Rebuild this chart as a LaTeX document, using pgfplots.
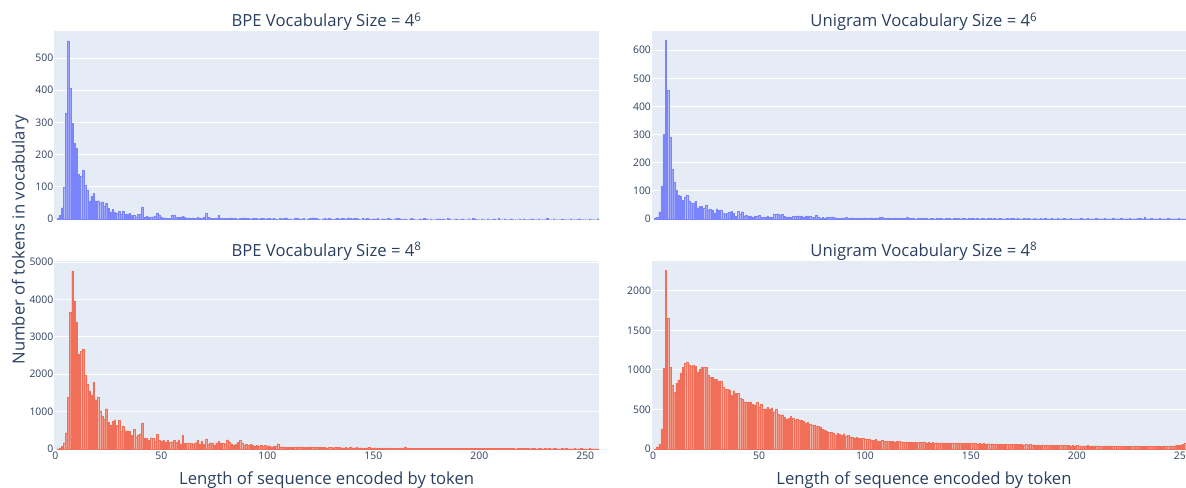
\documentclass[border=0pt]{standalone}
\usepackage{pgfplots}
\pgfplotsset{compat=1.18}
\usepackage{pgfplotstable}
\usepackage{fontspec}
\setmainfont{Open Sans}
\definecolor{pblue}{HTML}{636EFA}
\definecolor{pred}{HTML}{EF553B}
\definecolor{pbg}{HTML}{E5ECF6}
\definecolor{ptext}{HTML}{2A3F5F}

% BPE, vocabulary size 4^6 (bins 1..256)
\pgfplotstableread[row sep=\\]{
y\\
3\\ 11\\ 35\\ 100\\ 330\\ 554\\ 407\\ 297\\ 236\\ 220\\
138\\ 134\\ 152\\ 106\\ 90\\ 56\\ 72\\ 79\\ 57\\ 57\\
48\\ 54\\ 41\\ 48\\ 33\\ 23\\ 31\\ 20\\ 18\\ 24\\
16\\ 24\\ 14\\ 16\\ 18\\ 12\\ 11\\ 7\\ 15\\ 14\\
36\\ 6\\ 8\\ 7\\ 6\\ 7\\ 9\\ 19\\ 12\\ 6\\
4\\ 4\\ 2\\ 3\\ 11\\ 12\\ 5\\ 5\\ 5\\ 10\\
7\\ 2\\ 4\\ 3\\ 4\\ 3\\ 5\\ 4\\ 3\\ 5\\
17\\ 6\\ 4\\ 3\\ 3\\ 2\\ 12\\ 3\\ 2\\ 3\\
2\\ 3\\ 4\\ 2\\ 3\\ 1\\ 2\\ 3\\ 4\\ 2\\
2\\ 1\\ 3\\ 2\\ 2\\ 1\\ 2\\ 3\\ 1\\ 2\\
2\\ 1\\ 3\\ 1\\ 0\\ 2\\ 1\\ 2\\ 4\\ 1\\
1\\ 0\\ 2\\ 3\\ 1\\ 1\\ 2\\ 0\\ 1\\ 2\\
3\\ 4\\ 2\\ 1\\ 0\\ 1\\ 2\\ 1\\ 3\\ 1\\
0\\ 1\\ 2\\ 1\\ 3\\ 2\\ 1\\ 4\\ 2\\ 1\\
2\\ 3\\ 1\\ 0\\ 2\\ 1\\ 3\\ 1\\ 0\\ 1\\
1\\ 2\\ 0\\ 1\\ 1\\ 0\\ 2\\ 1\\ 0\\ 1\\
2\\ 3\\ 1\\ 0\\ 1\\ 0\\ 1\\ 2\\ 1\\ 0\\
0\\ 1\\ 0\\ 2\\ 1\\ 0\\ 1\\ 0\\ 0\\ 1\\
1\\ 0\\ 1\\ 0\\ 2\\ 1\\ 0\\ 0\\ 1\\ 0\\
0\\ 1\\ 0\\ 0\\ 1\\ 0\\ 2\\ 1\\ 0\\ 0\\
1\\ 0\\ 0\\ 1\\ 0\\ 0\\ 1\\ 0\\ 2\\ 0\\
0\\ 1\\ 0\\ 0\\ 1\\ 0\\ 0\\ 0\\ 1\\ 0\\
1\\ 0\\ 0\\ 0\\ 1\\ 0\\ 0\\ 1\\ 0\\ 0\\
0\\ 2\\ 0\\ 0\\ 1\\ 0\\ 0\\ 0\\ 1\\ 0\\
0\\ 0\\ 1\\ 0\\ 0\\ 0\\ 1\\ 0\\ 0\\ 0\\
0\\ 1\\ 0\\ 0\\ 0\\ 1\\
}\bpesix

% BPE, vocabulary size 4^8
\pgfplotstableread[row sep=\\]{
y\\
10\\ 36\\ 80\\ 170\\ 437\\ 1390\\ 3670\\ 4767\\ 3947\\ 3404\\
2548\\ 2620\\ 2682\\ 1969\\ 1729\\ 1559\\ 1452\\ 1782\\ 1319\\ 1390\\
1016\\ 891\\ 802\\ 1078\\ 722\\ 633\\ 740\\ 784\\ 642\\ 775\\
472\\ 606\\ 490\\ 490\\ 481\\ 365\\ 526\\ 330\\ 383\\ 410\\
686\\ 294\\ 294\\ 232\\ 303\\ 294\\ 214\\ 392\\ 240\\ 205\\
232\\ 178\\ 232\\ 178\\ 196\\ 240\\ 187\\ 250\\ 143\\ 365\\
150\\ 150\\ 150\\ 160\\ 140\\ 170\\ 240\\ 130\\ 220\\ 125\\
258\\ 133\\ 169\\ 169\\ 98\\ 169\\ 205\\ 151\\ 151\\ 133\\
249\\ 196\\ 133\\ 107\\ 125\\ 187\\ 231\\ 151\\ 98\\ 133\\
98\\ 133\\ 116\\ 71\\ 98\\ 89\\ 98\\ 80\\ 98\\ 89\\
89\\ 62\\ 71\\ 89\\ 142\\ 62\\ 62\\ 53\\ 53\\ 45\\
52\\ 60\\ 48\\ 55\\ 62\\ 44\\ 58\\ 50\\ 46\\ 57\\
63\\ 41\\ 48\\ 52\\ 39\\ 45\\ 55\\ 38\\ 47\\ 42\\
36\\ 44\\ 40\\ 52\\ 35\\ 38\\ 46\\ 33\\ 41\\ 37\\
35\\ 42\\ 30\\ 38\\ 33\\ 29\\ 36\\ 40\\ 31\\ 28\\
34\\ 27\\ 30\\ 25\\ 32\\ 29\\ 24\\ 28\\ 33\\ 26\\
30\\ 24\\ 27\\ 22\\ 45\\ 26\\ 23\\ 29\\ 21\\ 25\\
24\\ 20\\ 26\\ 22\\ 19\\ 27\\ 21\\ 18\\ 23\\ 20\\
22\\ 19\\ 17\\ 24\\ 18\\ 21\\ 16\\ 20\\ 19\\ 17\\
18\\ 22\\ 16\\ 15\\ 20\\ 17\\ 19\\ 14\\ 18\\ 16\\
15\\ 19\\ 14\\ 17\\ 13\\ 16\\ 18\\ 12\\ 15\\ 14\\
16\\ 13\\ 15\\ 12\\ 17\\ 14\\ 11\\ 15\\ 13\\ 12\\
14\\ 12\\ 16\\ 11\\ 13\\ 15\\ 10\\ 12\\ 14\\ 11\\
13\\ 11\\ 12\\ 10\\ 14\\ 12\\ 9\\ 11\\ 13\\ 10\\
12\\ 10\\ 11\\ 9\\ 13\\ 11\\ 10\\ 12\\ 9\\ 11\\
10\\ 12\\ 9\\ 11\\ 10\\ 8\\
}\bpeeight

% Unigram, vocabulary size 4^6
\pgfplotstableread[row sep=\\]{
y\\
5\\ 6\\ 26\\ 117\\ 302\\ 635\\ 458\\ 290\\ 176\\ 131\\
102\\ 84\\ 83\\ 66\\ 77\\ 84\\ 65\\ 58\\ 57\\ 63\\
40\\ 45\\ 45\\ 38\\ 49\\ 33\\ 36\\ 32\\ 22\\ 37\\
30\\ 32\\ 22\\ 19\\ 21\\ 25\\ 27\\ 20\\ 11\\ 28\\
18\\ 26\\ 12\\ 13\\ 9\\ 12\\ 8\\ 11\\ 9\\ 13\\
8\\ 7\\ 7\\ 11\\ 7\\ 7\\ 18\\ 17\\ 19\\ 13\\
17\\ 9\\ 6\\ 8\\ 6\\ 9\\ 11\\ 10\\ 12\\ 9\\
7\\ 12\\ 10\\ 11\\ 8\\ 6\\ 14\\ 8\\ 5\\ 6\\
4\\ 7\\ 8\\ 7\\ 8\\ 5\\ 4\\ 3\\ 5\\ 4\\
6\\ 3\\ 4\\ 5\\ 3\\ 4\\ 2\\ 4\\ 3\\ 5\\
4\\ 3\\ 5\\ 2\\ 4\\ 3\\ 6\\ 7\\ 3\\ 2\\
4\\ 3\\ 2\\ 5\\ 3\\ 2\\ 4\\ 3\\ 2\\ 7\\
3\\ 2\\ 4\\ 1\\ 3\\ 2\\ 3\\ 4\\ 2\\ 1\\
3\\ 2\\ 1\\ 4\\ 2\\ 3\\ 1\\ 2\\ 3\\ 2\\
1\\ 3\\ 2\\ 2\\ 1\\ 4\\ 2\\ 1\\ 2\\ 3\\
2\\ 1\\ 3\\ 1\\ 2\\ 2\\ 1\\ 3\\ 2\\ 1\\
2\\ 1\\ 2\\ 3\\ 1\\ 1\\ 2\\ 1\\ 3\\ 2\\
1\\ 2\\ 1\\ 1\\ 3\\ 1\\ 2\\ 1\\ 1\\ 2\\
1\\ 1\\ 2\\ 1\\ 2\\ 1\\ 1\\ 3\\ 1\\ 1\\
2\\ 1\\ 1\\ 2\\ 1\\ 1\\ 2\\ 1\\ 1\\ 1\\
1\\ 2\\ 1\\ 1\\ 2\\ 1\\ 1\\ 1\\ 2\\ 1\\
1\\ 1\\ 2\\ 1\\ 1\\ 1\\ 2\\ 1\\ 1\\ 1\\
2\\ 1\\ 1\\ 1\\ 2\\ 1\\ 1\\ 1\\ 3\\ 2\\
1\\ 8\\ 1\\ 1\\ 2\\ 1\\ 1\\ 1\\ 2\\ 1\\
1\\ 1\\ 2\\ 1\\ 1\\ 1\\ 1\\ 2\\ 1\\ 1\\
1\\ 2\\ 1\\ 1\\ 1\\ 1\\
}\unisix

% Unigram, vocabulary size 4^8
\pgfplotstableread[row sep=\\]{
y\\
3\\ 30\\ 64\\ 254\\ 1026\\ 2260\\ 1660\\ 1035\\ 808\\ 716\\
829\\ 876\\ 964\\ 1040\\ 1082\\ 1103\\ 1065\\ 1052\\ 1057\\ 1052\\
968\\ 1006\\ 1031\\ 1036\\ 1031\\ 935\\ 905\\ 905\\ 888\\ 884\\
855\\ 863\\ 779\\ 762\\ 758\\ 750\\ 682\\ 737\\ 707\\ 703\\
644\\ 627\\ 598\\ 598\\ 589\\ 598\\ 568\\ 560\\ 589\\ 535\\
568\\ 509\\ 509\\ 526\\ 501\\ 522\\ 471\\ 505\\ 442\\ 429\\
434\\ 400\\ 375\\ 390\\ 415\\ 385\\ 370\\ 380\\ 362\\ 360\\
348\\ 330\\ 340\\ 318\\ 300\\ 305\\ 290\\ 288\\ 282\\ 250\\
245\\ 232\\ 210\\ 215\\ 205\\ 180\\ 200\\ 190\\ 172\\ 195\\
165\\ 178\\ 150\\ 155\\ 142\\ 148\\ 138\\ 132\\ 140\\ 125\\
120\\ 128\\ 115\\ 110\\ 120\\ 105\\ 100\\ 108\\ 98\\ 102\\
95\\ 100\\ 98\\ 92\\ 97\\
95\\ 90\\ 93\\ 88\\ 92\\ 86\\ 90\\ 84\\ 88\\ 85\\
87\\ 82\\ 85\\ 80\\ 84\\ 79\\ 82\\ 78\\ 81\\ 77\\
80\\ 76\\ 79\\ 74\\ 78\\ 75\\ 77\\ 73\\ 76\\ 72\\
74\\ 71\\ 75\\ 70\\ 73\\ 69\\ 72\\ 68\\ 70\\ 67\\
69\\ 66\\ 68\\ 65\\ 67\\ 63\\ 66\\ 62\\ 64\\ 61\\
63\\ 60\\ 62\\ 58\\ 61\\ 57\\ 59\\ 56\\ 58\\ 55\\
57\\ 54\\ 56\\ 52\\ 55\\ 51\\ 53\\ 50\\ 52\\ 49\\
51\\ 48\\ 50\\ 47\\ 49\\ 46\\ 48\\ 45\\ 47\\ 44\\
46\\ 43\\ 45\\ 42\\ 44\\ 41\\ 43\\ 40\\ 42\\ 44\\
41\\ 43\\ 40\\ 42\\ 39\\ 41\\ 38\\ 40\\ 42\\ 39\\
41\\ 38\\ 40\\ 37\\ 39\\ 41\\ 38\\ 40\\ 37\\ 39\\
38\\ 40\\ 37\\ 39\\ 36\\ 38\\ 40\\ 37\\ 39\\ 36\\
38\\ 37\\ 39\\ 36\\ 38\\ 40\\ 37\\ 39\\ 38\\ 41\\
43\\ 46\\ 50\\ 55\\ 62\\ 70\\ 78\\ 85\\ 92\\ 100\\ 110\\
}\unieight

\pgfplotsset{
  hist/.style={
    scale only axis,
    height=141pt,
    axis background/.style={fill=pbg},
    axis line style={draw=none},
    ymajorgrids,
    grid style={white, line width=0.75pt},
    major tick length=0pt,
    tick style={draw=none},
    ymin=0,
    ticklabel style={font=\fontsize{7.8}{9}\selectfont, text=ptext},
    yticklabel style={inner xsep=0.6pt},
    xticklabel style={inner ysep=2pt},
    /pgf/number format/assume math mode=true,
    /pgf/number format/1000 sep={},
    ybar,
    bar width=0.72,
  },
  bluebar/.style={fill=pblue!62!white, draw=pblue!85!white, line width=0.12pt},
  redbar/.style={fill=pred!62!white, draw=pred!85!white, line width=0.12pt},
}
\tikzset{ptitle/.style={font=\fontsize{12.5}{15}\selectfont, text=ptext}}

\begin{document}
\begin{tikzpicture}
\path[use as bounding box] (0,0) rectangle (889.5pt,365.25pt);

% top left
\begin{axis}[hist, at={(40.8pt,201pt)}, anchor=south west, width=408.45pt,
  xmin=-0.5, xmax=256.5, ymax=584, ytick={0,100,...,500}, xtick=\empty]
\addplot[bluebar] table[x expr=\coordindex+1, y=y] {\bpesix};
\end{axis}

% bottom left
\begin{axis}[hist, at={(40.8pt,28.5pt)}, anchor=south west, width=408.45pt,
  xmin=-0.5, xmax=256.5, ymax=5030, ytick={0,1000,...,5000}, xtick={0,50,...,250}]
\addplot[redbar] table[x expr=\coordindex+1, y=y] {\bpeeight};
\end{axis}

% top right
\begin{axis}[hist, at={(489pt,201pt)}, anchor=south west, width=408.4pt,
  xmin=-0.5, xmax=256.5, ymax=668, ytick={0,100,...,600}, xtick=\empty]
\addplot[bluebar] table[x expr=\coordindex+1, y=y] {\unisix};
\end{axis}

% bottom right
\begin{axis}[hist, at={(489pt,28.5pt)}, anchor=south west, width=408.4pt,
  xmin=-0.5, xmax=256.5, ymax=2378, ytick={0,500,...,2000}, xtick={0,50,...,250}]
\addplot[redbar] table[x expr=\coordindex+1, y=y] {\unieight};
\end{axis}

\node[ptitle, anchor=base] at (245pt,345pt) {BPE Vocabulary Size = 4\textsuperscript{6}};
\node[ptitle, anchor=base] at (693pt,345pt) {Unigram Vocabulary Size = 4\textsuperscript{6}};
\node[ptitle, anchor=base] at (245pt,172.7pt) {BPE Vocabulary Size = 4\textsuperscript{8}};
\node[ptitle, anchor=base] at (693pt,172.7pt) {Unigram Vocabulary Size = 4\textsuperscript{8}};

\node[ptitle, anchor=base, rotate=90] at (18.5pt,185.25pt) {Number of tokens in vocabulary};
\node[ptitle, anchor=base] at (245pt,2pt) {Length of sequence encoded by token};
\node[ptitle, anchor=base] at (693pt,2pt) {Length of sequence encoded by token};
\end{tikzpicture}
\end{document}
